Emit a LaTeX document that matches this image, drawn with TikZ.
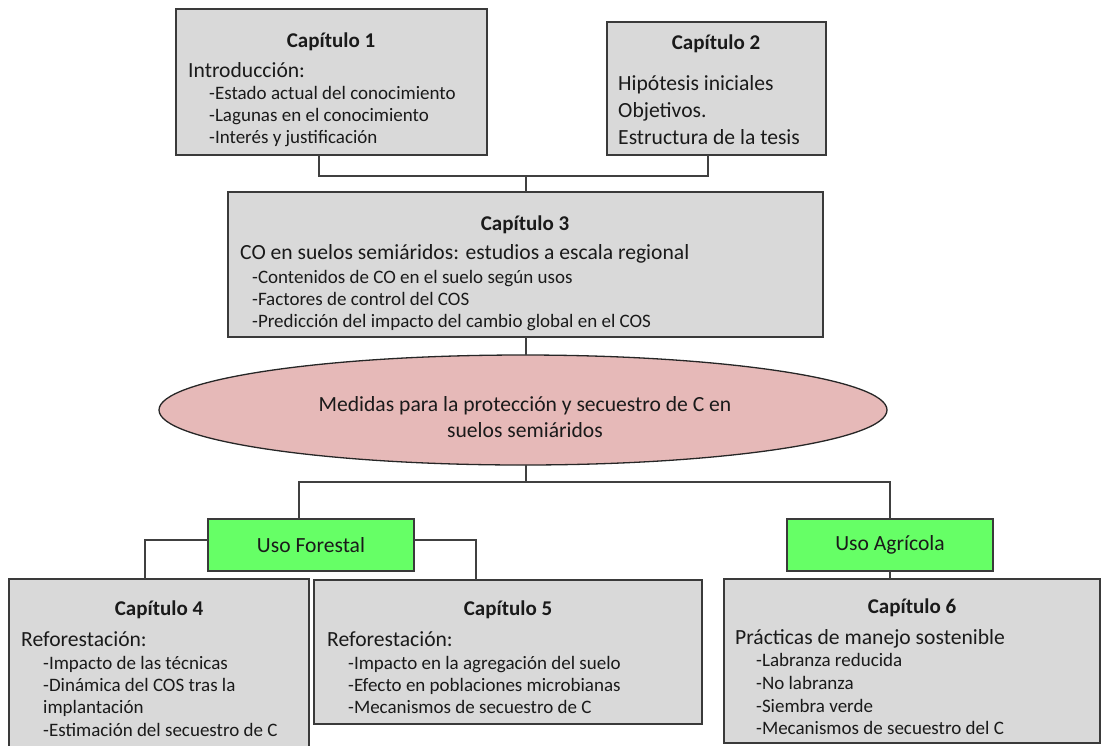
\documentclass[tikz,border=0pt]{standalone}
\usepackage{fontspec}
\setmainfont{Carlito}
\usetikzlibrary{shapes.geometric}
\definecolor{boxfill}{HTML}{D9D9D9}
\definecolor{boxline}{HTML}{3A3A3A}
\definecolor{connline}{HTML}{404040}
\definecolor{ellfill}{HTML}{E6B9B8}
\definecolor{usegreen}{HTML}{66FF66}
\definecolor{txt}{HTML}{1A1A1A}
\tikzset{
  capbox/.style={draw=boxline, fill=boxfill, line width=1.4pt, inner sep=0pt, outer sep=0pt},
  usobox/.style={draw=boxline, fill=usegreen, line width=1.4pt, inner sep=0pt, outer sep=0pt,
     font=\fontsize{21.6}{25}\selectfont, text=txt},
  ellbox/.style={ellipse, draw=black!85, fill=ellfill, line width=1.3pt, inner sep=0pt, outer sep=0pt},
  elltext/.style={align=center, font=\fontsize{21.6}{26}\selectfont, text=txt, inner sep=0pt},
  conn/.style={draw=connline, line width=1.4pt},
  ttl/.style={font=\fontsize{21}{25}\selectfont\bfseries, anchor=base, inner sep=0pt, text=txt},
  mainline/.style={font=\fontsize{21.6}{25}\selectfont, anchor=base west, inner sep=0pt, text=txt},
  itemline/.style={font=\fontsize{19}{22}\selectfont, anchor=base west, inner sep=0pt, text=txt},
}
\begin{document}
\begin{tikzpicture}[x=1pt, y=-1pt]
\useasboundingbox (0,0) rectangle (1102,745);
\clip (0,0) rectangle (1102,745);
% boxes
\node[capbox, minimum width=311, minimum height=146] (cap1) at (331.5,82) {};
\node[capbox, minimum width=219, minimum height=133] (cap2) at (716.5,88.5) {};
\node[capbox, minimum width=595, minimum height=145] (cap3) at (525.5,264.5) {};
\node[ellbox, minimum width=728, minimum height=110] (ell) at (523,410) {};
\node[elltext] (ellt) at (525,417) {Medidas para la protección y secuestro de C en\\suelos semiáridos};
\node[usobox, minimum width=206, minimum height=52] (forestal) at (311,545) {Uso Forestal};
\node[usobox, minimum width=206, minimum height=52] (agricola) at (890,545) {Uso Agrícola};
\node[capbox, minimum width=300, minimum height=181] (cap4) at (159,669.5) {};
\node[capbox, minimum width=388, minimum height=144] (cap5) at (508,652) {};
\node[capbox, minimum width=376, minimum height=164] (cap6) at (912,661) {};
% junctions
\coordinate (j1) at (526,176);
\coordinate (j2) at (526,482);
% connectors
\draw[conn] ([xshift=-12.5pt]cap1.south) |- (j1) -| ([xshift=-8.5pt]cap2.south);
\draw[conn] (j1) -- (cap3.north -| j1);
\draw[conn] (cap3.south -| j1) -- (ell.north -| j1);
\draw[conn] (ell.south -| j1) -- (j2);
\draw[conn] ([xshift=-12pt]forestal.north) |- (j2) -| (agricola.north);
\draw[conn] ([yshift=5pt]forestal.west) -| ([xshift=-14pt]cap4.north);
\draw[conn] ([yshift=5pt]forestal.east) -| ([xshift=-32pt]cap5.north);
\draw[conn] (agricola.south) -- (cap6.north -| agricola.south);
% Capitulo 1
\node[ttl] (t1) at (331,47) {Capítulo 1};
\node[mainline] (t1a) at (188,77) {Introducción:};
\node[itemline] (t1b) at (209,99) {-Estado actual del conocimiento};
\node[itemline] (t1c) at (209,121) {-Lagunas en el conocimiento};
\node[itemline] (t1d) at (209,143) {-Interés y justificación};
% Capitulo 2
\node[ttl] (t2) at (716,49) {Capítulo 2};
\node[mainline] (t2a) at (618,90) {Hipótesis iniciales};
\node[mainline] (t2b) at (618,117) {Objetivos.};
\node[mainline] (t2c) at (618,144) {Estructura de la tesis};
% Capitulo 3
\node[ttl] (t3) at (525,230) {Capítulo 3};
\node[mainline] (t3a) at (240,259) {CO en suelos semiáridos: estudios a escala regional};
\node[itemline] (t3b) at (252,283) {-Contenidos de CO en el suelo según usos};
\node[itemline] (t3c) at (252,305) {-Factores de control del COS};
\node[itemline] (t3d) at (252,327) {-Predicción del impacto del cambio global en el COS};
% Capitulo 4
\node[ttl] (t4) at (159,615) {Capítulo 4};
\node[mainline] (t4a) at (21,646) {Reforestación:};
\node[itemline] (t4b) at (43,669) {-Impacto de las técnicas};
\node[itemline] (t4c) at (43,691) {-Dinámica del COS tras la};
\node[itemline] (t4d) at (43,713) {implantación};
\node[itemline] (t4e) at (43,736) {-Estimación del secuestro de C};
% Capitulo 5
\node[ttl] (t5) at (508,615) {Capítulo 5};
\node[mainline] (t5a) at (327,646) {Reforestación:};
\node[itemline] (t5b) at (348,669) {-Impacto en la agregación del suelo};
\node[itemline] (t5c) at (348,691) {-Efecto en poblaciones microbianas};
\node[itemline] (t5d) at (348,713) {-Mecanismos de secuestro de C};
% Capitulo 6
\node[ttl] (t6) at (912,613) {Capítulo 6};
\node[mainline] (t6a) at (735,644) {Prácticas de manejo sostenible};
\node[itemline] (t6b) at (756,666) {-Labranza reducida};
\node[itemline] (t6c) at (756,689) {-No labranza};
\node[itemline] (t6d) at (756,712) {-Siembra verde};
\node[itemline] (t6e) at (756,734) {-Mecanismos de secuestro del C};
\end{tikzpicture}
\end{document}
